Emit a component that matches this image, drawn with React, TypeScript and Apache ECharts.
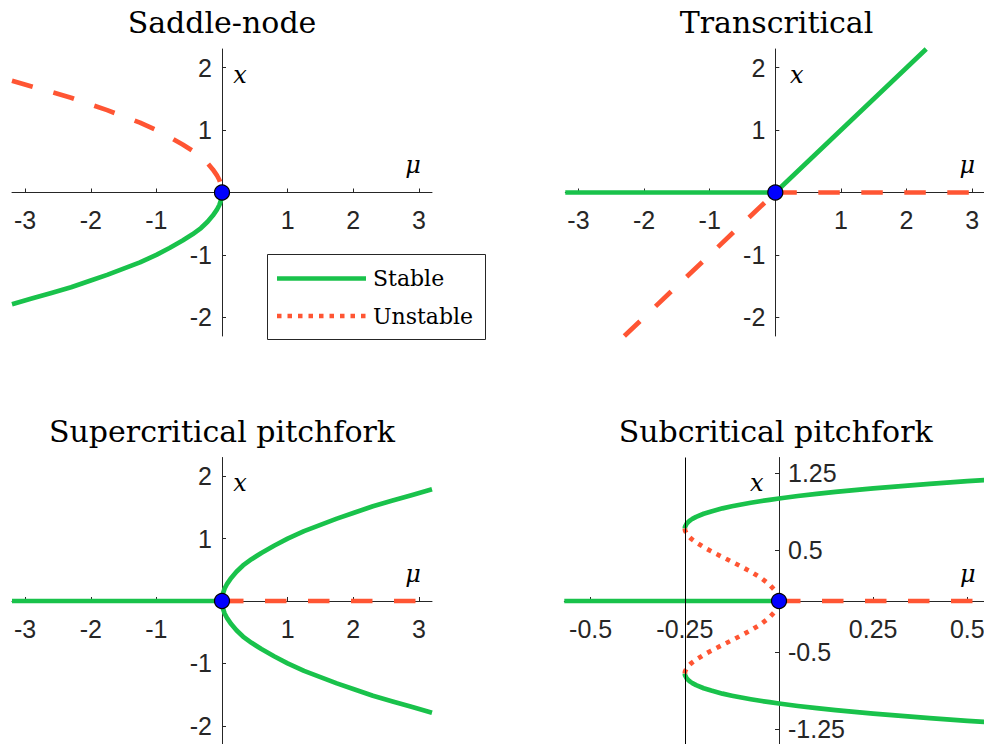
import React, { useEffect, useRef } from 'react';
import * as echarts from 'echarts';

// ---------- data ----------
// Saddle-node
const snMu = [-3.2, -2.9, -2.6, -2.3, -2.0, -1.75, -1.5, -1.25, -1.0, -0.8, -0.6, -0.45, -0.32, -0.22, -0.14, -0.08, -0.04, -0.015, -0.004, 0];
const snUnstable = [1.79, 1.7, 1.61, 1.52, 1.41, 1.32, 1.22, 1.12, 1.0, 0.89, 0.77, 0.67, 0.57, 0.47, 0.37, 0.28, 0.2, 0.12, 0.06, 0];
const snStable = [-1.79, -1.7, -1.61, -1.52, -1.41, -1.32, -1.22, -1.12, -1.0, -0.89, -0.77, -0.67, -0.57, -0.47, -0.37, -0.28, -0.2, -0.12, -0.06, 0];

// Transcritical
const tcStableMu = [-3.2, 0, 2.3];
const tcStableX = [0, 0, 2.3];
const tcUnstableDiagMu = [-2.3, 0];
const tcUnstableDiagX = [-2.3, 0];
const tcUnstableFlatMu = [0, 3.2];
const tcUnstableFlatX = [0, 0];

// Supercritical pitchfork
const pfTrivStableMu = [-3.2, 0];
const pfTrivStableX = [0, 0];
const pfTrivUnstableMu = [0, 3.2];
const pfTrivUnstableX = [0, 0];
const pfMu = [0, 0.004, 0.015, 0.04, 0.08, 0.14, 0.22, 0.32, 0.45, 0.6, 0.8, 1.0, 1.25, 1.5, 1.75, 2.0, 2.3, 2.6, 2.9, 3.2];
const pfUpper = [0, 0.06, 0.12, 0.2, 0.28, 0.37, 0.47, 0.57, 0.67, 0.77, 0.89, 1.0, 1.12, 1.22, 1.32, 1.41, 1.52, 1.61, 1.7, 1.79];
const pfLower = [0, -0.06, -0.12, -0.2, -0.28, -0.37, -0.47, -0.57, -0.67, -0.77, -0.89, -1.0, -1.12, -1.22, -1.32, -1.41, -1.52, -1.61, -1.7, -1.79];

// Subcritical pitchfork
const scTrivStableMu = [-0.57, 0];
const scTrivStableX = [0, 0];
const scTrivUnstableMu = [0, 0.57];
const scTrivUnstableX = [0, 0];
const scStableMu = [-0.25, -0.2495, -0.249, -0.245, -0.24, -0.235, -0.23, -0.22, -0.2, -0.18, -0.15, -0.125, -0.1, -0.075, -0.05, -0.025, 0, 0.05, 0.1, 0.15, 0.2, 0.25, 0.3, 0.4, 0.5, 0.57];
const scStableUpper = [0.707, 0.723, 0.729, 0.756, 0.775, 0.789, 0.801, 0.821, 0.851, 0.874, 0.904, 0.924, 0.942, 0.958, 0.973, 0.987, 1.0, 1.024, 1.045, 1.064, 1.082, 1.099, 1.114, 1.143, 1.169, 1.186];
const scStableLower = [-0.707, -0.723, -0.729, -0.756, -0.775, -0.789, -0.801, -0.821, -0.851, -0.874, -0.904, -0.924, -0.942, -0.958, -0.973, -0.987, -1.0, -1.024, -1.045, -1.064, -1.082, -1.099, -1.114, -1.143, -1.169, -1.186];
const scUnstableMu = [-0.25, -0.2495, -0.249, -0.245, -0.24, -0.235, -0.23, -0.22, -0.2, -0.18, -0.15, -0.125, -0.1, -0.075, -0.05, -0.025, -0.01, 0];
const scUnstableUpper = [0.707, 0.691, 0.684, 0.655, 0.632, 0.614, 0.599, 0.572, 0.526, 0.485, 0.429, 0.383, 0.336, 0.286, 0.23, 0.16, 0.1, 0];
const scUnstableLower = [-0.707, -0.691, -0.684, -0.655, -0.632, -0.614, -0.599, -0.572, -0.526, -0.485, -0.429, -0.383, -0.336, -0.286, -0.23, -0.16, -0.1, 0];
const scFoldMu = [-0.25];

// Bifurcation points
const bifPoint = [0, 0];

// Ticks
const bigXTicks = [-3, -2, -1, 0, 1, 2, 3];
const bigXLabels = [-3, -2, -1, 1, 2, 3];
const bigYTicks = [-2, -1, 0, 1, 2];
const bigYLabels = [-2, -1, 1, 2];
const scXTicks = [-0.5, -0.25, 0, 0.25, 0.5];
const scXLabels = [-0.5, -0.25, 0.25, 0.5];
const scYTicks = [-1.25, -0.5, 0, 0.5, 1.25];
const scYLabels = [-1.25, -0.5, 0.5, 1.25];

const titles = ['Saddle-node', 'Transcritical', 'Supercritical pitchfork', 'Subcritical pitchfork'];
const legendNames = ['Stable', 'Unstable'];

// ---------- styles ----------
const GREEN = '#19c24b';
const RED = '#ff5533';
const AXIS = '#262626';
const LW = 4.7;
const DASH = [21.5, 21.5];
const DOT = [4.5, 6];
const TICK_FONT = 'Liberation Sans';
const TICK_SIZE = 25;

const zip = (a: number[], b: number[]) => a.map((v, i) => [v, b[i]]);

function lineSeries(idx: number, mu: number[], x: number[], color: string, dash: any) {
  return {
    type: 'line',
    xAxisIndex: idx,
    yAxisIndex: idx,
    data: zip(mu, x),
    showSymbol: false,
    symbol: 'none',
    clip: true,
    silent: true,
    z: 3,
    lineStyle: { color, width: LW, type: dash, cap: 'butt', join: 'round' },
  };
}

function pointSeries(idx: number) {
  return {
    type: 'scatter',
    xAxisIndex: idx,
    yAxisIndex: idx,
    data: [bifPoint],
    symbol: 'circle',
    symbolSize: 15,
    silent: true,
    z: 10,
    itemStyle: { color: '#0000ff', borderColor: '#000', borderWidth: 1.2, opacity: 1 },
  };
}

const labelStyle = (margin: number, labels: number[]) => ({
  show: true,
  customValues: labels,
  margin,
  color: AXIS,
  fontSize: TICK_SIZE,
  fontFamily: TICK_FONT,
});

function xAxisCfg(idx: number, min: number, max: number, ticks: number[], labels: number[], offset: number) {
  return {
    type: 'value',
    gridIndex: idx,
    position: 'bottom',
    offset,
    min,
    max,
    axisLine: { show: true, onZero: false, lineStyle: { color: AXIS, width: 1 } },
    axisTick: { show: true, inside: true, length: 4, customValues: ticks, lineStyle: { color: AXIS, width: 1 } },
    axisLabel: labelStyle(15, labels),
    splitLine: { show: false },
  };
}

function yAxisCfg(idx: number, min: number, max: number, ticks: number[], labels: number[], pos: string, margin: number, offset: number) {
  return {
    type: 'value',
    gridIndex: idx,
    position: pos,
    offset,
    min,
    max,
    axisLine: { show: true, onZero: false, lineStyle: { color: AXIS, width: 1 } },
    axisTick: { show: true, inside: true, length: 4, customValues: ticks, lineStyle: { color: AXIS, width: 1 } },
    axisLabel: labelStyle(margin, labels),
    splitLine: { show: false },
  };
}

function text(x: number, y: number, t: string, size: number, italic = false, align = 'center') {
  return {
    type: 'text',
    x,
    y,
    silent: true,
    z: 20,
    style: {
      text: t,
      fontSize: size,
      fontFamily: 'DejaVu Serif',
      fontStyle: italic ? 'italic' : 'normal',
      fill: '#000',
      align,
      textAlign: align,
      verticalAlign: 'middle',
      textVerticalAlign: 'middle',
    },
  };
}

export default function App() {
  const ref = useRef<HTMLDivElement>(null);
  useEffect(() => {
    if (!ref.current) return;
    const chart = echarts.init(ref.current, undefined, { renderer: 'svg' });
    const H = 287;
    const grids = [
      { left: 12, top: 49, width: 420, height: H },
      { left: 565.3, top: 49, width: 420, height: H },
      { left: 12, top: 457.5, width: 420, height: H },
      { left: 564.3, top: 457.5, width: 429.4, height: H },
    ].map((g) => ({ ...g, containLabel: false, outerBoundsMode: 'none', show: false }));

    const midOff = -H / 2;
    const option: any = {
      animation: false,
      backgroundColor: '#fff',
      grid: grids,
      xAxis: [
        xAxisCfg(0, -3.2, 3.2, bigXTicks, bigXLabels, midOff),
        xAxisCfg(1, -3.2, 3.2, bigXTicks, bigXLabels, midOff),
        xAxisCfg(2, -3.2, 3.2, bigXTicks, bigXLabels, midOff),
        xAxisCfg(3, -0.57, 0.57, scXTicks, scXLabels, midOff),
      ],
      yAxis: [
        yAxisCfg(0, -2.3, 2.3, bigYTicks, bigYLabels, 'left', 10, -210),
        yAxisCfg(1, -2.3, 2.3, bigYTicks, bigYLabels, 'left', 10, -210),
        yAxisCfg(2, -2.3, 2.3, bigYTicks, bigYLabels, 'left', 10, -210),
        yAxisCfg(3, -1.4, 1.4, scYTicks, scYLabels, 'right', 9, -214.7),
      ],
      series: [
        // Saddle-node
        lineSeries(0, snMu, snStable, GREEN, 'solid'),
        lineSeries(0, snMu, snUnstable, RED, DASH),
        pointSeries(0),
        // Transcritical
        lineSeries(1, tcStableMu, tcStableX, GREEN, 'solid'),
        lineSeries(1, tcUnstableDiagMu, tcUnstableDiagX, RED, DASH),
        lineSeries(1, tcUnstableFlatMu, tcUnstableFlatX, RED, DASH),
        pointSeries(1),
        // Supercritical pitchfork
        lineSeries(2, pfTrivStableMu, pfTrivStableX, GREEN, 'solid'),
        lineSeries(2, pfTrivUnstableMu, pfTrivUnstableX, RED, DASH),
        lineSeries(2, pfMu, pfUpper, GREEN, 'solid'),
        lineSeries(2, pfMu, pfLower, GREEN, 'solid'),
        pointSeries(2),
        // Subcritical pitchfork
        {
          type: 'line',
          xAxisIndex: 3,
          yAxisIndex: 3,
          data: [],
          silent: true,
          z: 1,
          markLine: {
            silent: true,
            symbol: ['none', 'none'],
            label: { show: false },
            lineStyle: { color: '#000', type: 'solid', width: 1 },
            data: scFoldMu.map((v) => ({ xAxis: v })),
          },
        },
        lineSeries(3, scTrivStableMu, scTrivStableX, GREEN, 'solid'),
        lineSeries(3, scTrivUnstableMu, scTrivUnstableX, RED, DASH),
        lineSeries(3, scStableMu, scStableUpper, GREEN, 'solid'),
        lineSeries(3, scStableMu, scStableLower, GREEN, 'solid'),
        lineSeries(3, scUnstableMu, scUnstableUpper, RED, DOT),
        lineSeries(3, scUnstableMu, scUnstableLower, RED, DOT),
        pointSeries(3),
      ],
      graphic: [
        text(222, 22.5, titles[0], 30),
        text(776.5, 22.5, titles[1], 30),
        text(222, 431, titles[2], 30),
        text(775.7, 431, titles[3], 30),
        // axis names
        text(240, 75, 'x', 24, true),
        text(413, 165, 'μ', 24, true),
        text(796.7, 75, 'x', 24, true),
        text(967.3, 165, 'μ', 24, true),
        text(240, 483, 'x', 24, true),
        text(413, 574, 'μ', 24, true),
        text(756.7, 483, 'x', 24, true),
        text(967.7, 574, 'μ', 24, true),
        // legend
        {
          type: 'rect',
          z: 15,
          silent: true,
          shape: { x: 267.5, y: 254.5, width: 218, height: 85 },
          style: { fill: '#fff', stroke: AXIS, lineWidth: 1 },
        },
        {
          type: 'line',
          z: 16,
          silent: true,
          shape: { x1: 277, y1: 278.5, x2: 366, y2: 278.5 },
          style: { stroke: GREEN, lineWidth: LW },
        },
        {
          type: 'line',
          z: 16,
          silent: true,
          shape: { x1: 277, y1: 316, x2: 366, y2: 316 },
          style: { stroke: RED, lineWidth: LW, lineDash: DOT, lineCap: 'butt' },
        },
        text(373, 278.5, legendNames[0], 22, false, 'left'),
        text(373, 316, legendNames[1], 22, false, 'left'),
      ],
    };
    chart.setOption(option);
    return () => chart.dispose();
  }, []);
  return <div ref={ref} style={{ position: 'absolute', left: 0, top: 0, width: 984, height: 744 }} />;
}
